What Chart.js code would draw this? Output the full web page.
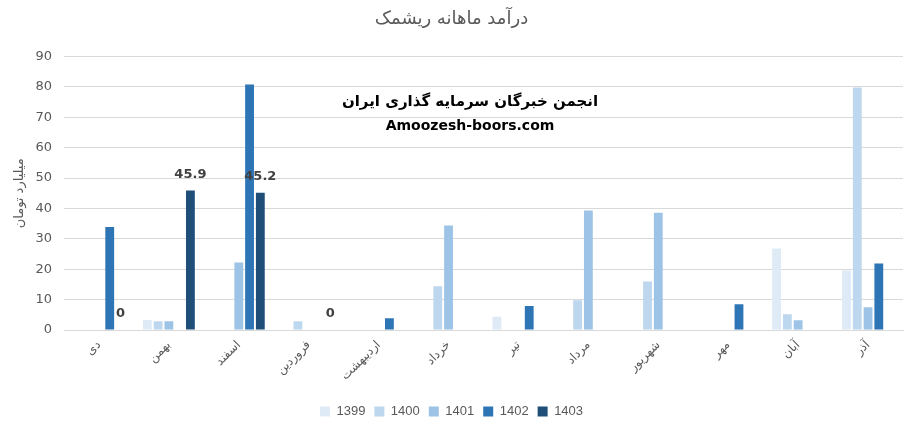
<!DOCTYPE html>
<html>
<head>
<meta charset="utf-8">
<script src="https://cdn.jsdelivr.net/npm/chart.js@4.4.1/dist/chart.umd.min.js"></script>
<style>
  html, body { margin: 0; padding: 0; background: #fff; }
  #wrap { width: 907px; height: 430px; }
</style>
</head>
<body>
<div id="wrap"><canvas id="revenueChart" width="907" height="430"></canvas></div>
<script>
// months (categories)
const months = ['دی', 'بهمن', 'اسفند', 'فروردین', 'اردیبهشت', 'خرداد', 'تیر', 'مرداد', 'شهریور', 'مهر', 'آبان', 'آذر'];
// series values, billion toman
const y1399 = [null, 3.3, null, null, null, null, 4.4, null, null, null, 26.8, 19.6];
const y1400 = [null, 2.9, null, 2.9, null, 14.4, null, 9.8, 16.0, null, 5.2, 79.8];
const y1401 = [null, 2.9, 22.2, null, null, 34.4, null, 39.3, 38.6, null, 3.2, 7.5];
const y1402 = [33.9, null, 80.8, null, 3.9, null, 7.9, null, null, 8.5, null, 21.9];
const y1403 = [0, 45.9, 45.2, 0, null, null, null, null, null, null, null, null];
const seriesNames = ['1399', '1400', '1401', '1402', '1403'];
const yTicks = [0, 10, 20, 30, 40, 50, 60, 70, 80, 90];

const colors = ['#DEEBF7', '#BDD7EE', '#9DC3E6', '#2E75B6', '#1F4E79'];
const textGray = '#595959';

// value labels for the 1403 series
const valueLabels = {
    id: 'valueLabels',
    afterDatasetsDraw(chart) {
        const ctx = chart.ctx;
        const meta = chart.getDatasetMeta(4);
        ctx.save();
        ctx.font = 'bold 13px "DejaVu Sans", sans-serif';
        ctx.fillStyle = '#404040';
        ctx.textAlign = 'center';
        ctx.textBaseline = 'middle';
        meta.data.forEach((bar, i) => {
            const v = y1403[i];
            if (v === null) return;
            ctx.fillText(String(v), bar.x, bar.y - 16);
        });
        ctx.restore();
    }
};

// watermark text in the middle of the plot
const watermark = {
    id: 'watermark',
    afterDraw(chart) {
        const ctx = chart.ctx;
        ctx.save();
        ctx.fillStyle = '#000';
        ctx.textAlign = 'center';
        ctx.textBaseline = 'middle';
        ctx.font = 'bold 15px "DejaVu Sans", sans-serif';
        ctx.fillText('انجمن خبرگان سرمایه گذاری ایران', 470, 102);
        ctx.font = 'bold 14px "DejaVu Sans", sans-serif';
        ctx.fillText('Amoozesh-boors.com', 470, 126);
        ctx.restore();
    }
};

const datasets = [y1399, y1400, y1401, y1402, y1403].map((vals, i) => ({
    label: seriesNames[i],
    data: vals,
    backgroundColor: colors[i],
    borderWidth: 0,
    barPercentage: 0.82,
    categoryPercentage: 0.77
}));

const ctx = document.getElementById('revenueChart').getContext('2d');
const revenueChart = new Chart(ctx, {
    type: 'bar',
    data: { labels: months, datasets: datasets },
    options: {
        responsive: false,
        animation: false,
        layout: { padding: { left: 0, right: 4, top: 0, bottom: 2 } },
        plugins: {
            title: {
                display: true,
                text: 'درآمد ماهانه ریشمک',
                color: textGray,
                font: { size: 18, family: '"DejaVu Sans", sans-serif', weight: 'normal' },
                padding: { top: 9, bottom: 26 }
            },
            legend: {
                position: 'bottom',
                labels: {
                    color: textGray,
                    boxWidth: 10,
                    boxHeight: 10,
                    padding: 9,
                    font: { size: 13, family: '"Liberation Sans Narrow", "Liberation Sans", sans-serif' }
                }
            },
            tooltip: { enabled: false }
        },
        scales: {
            x: {
                grid: { display: false, drawTicks: false },
                border: { color: '#D9D9D9' },
                ticks: {
                    color: textGray,
                    font: { size: 12, family: '"DejaVu Sans", sans-serif' },
                    minRotation: 45,
                    maxRotation: 45,
                    padding: 8
                },
                afterFit(scale) { scale.height = 66; }
            },
            y: {
                min: 0,
                max: 90,
                afterBuildTicks(scale) { scale.ticks = yTicks.map(v => ({ value: v })); },
                grid: { color: '#D9D9D9', drawTicks: false },
                border: { display: false },
                ticks: {
                    color: textGray,
                    padding: 12,
                    font: { size: 13, family: '"DejaVu Sans", sans-serif' }
                },
                title: {
                    display: true,
                    text: 'میلیارد تومان',
                    color: textGray,
                    font: { size: 13, family: '"DejaVu Sans", sans-serif' },
                    padding: { top: 12, bottom: 0 }
                },
                afterFit(scale) { scale.width = 64; }
            }
        }
    },
    plugins: [valueLabels, watermark]
});
</script>
</body>
</html>
